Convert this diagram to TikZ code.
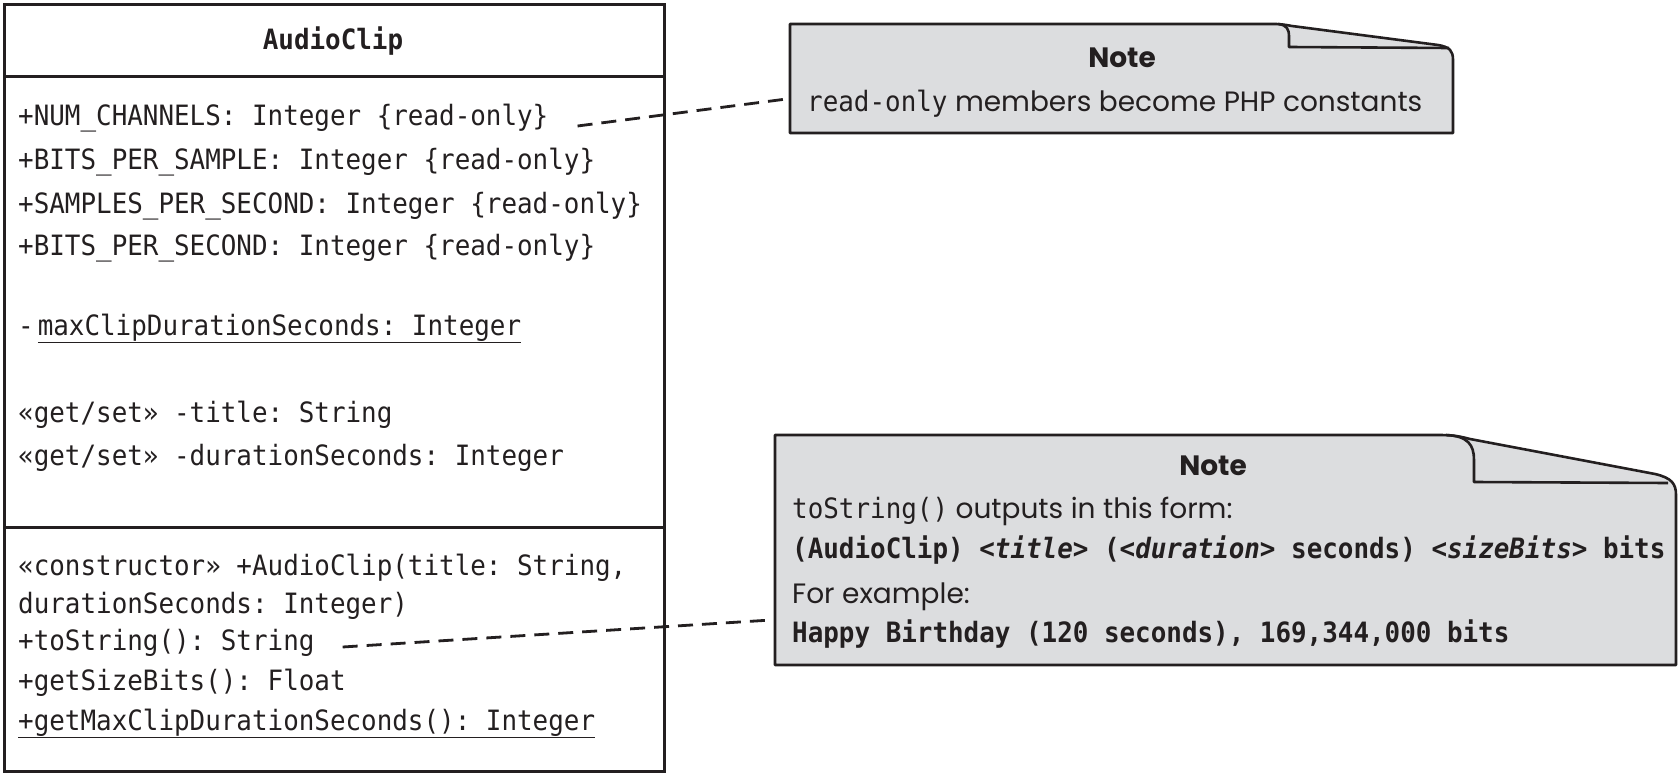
\documentclass[tikz,border=0pt]{standalone}
\usepackage{fontspec}
\setmonofont{DejaVu Sans Mono}[UprightFont=*, BoldFont=* Bold, ItalicFont=* Oblique, BoldItalicFont=* Bold Oblique, FakeStretch=0.925]
\newfontfamily\notefont{Poppins}
\usetikzlibrary{positioning, calc}
\definecolor{notegray}{RGB}{220,221,223}
\definecolor{ink}{RGB}{35,31,32}
\newcommand{\codefont}{\fontsize{28}{40}\selectfont\ttfamily}

\begin{document}
\begin{tikzpicture}[
    x=1pt, y=-1pt,
    member/.style={anchor=base west, inner sep=0pt, font=\codefont, text=ink},
    classhead/.style={anchor=base, inner sep=0pt, font=\codefont\bfseries, text=ink},
    classbox/.style={draw=ink, line width=2.6pt, minimum width=660pt, minimum height=767pt, inner sep=0pt},
    sepline/.style={draw=ink, line width=3pt},
    notebox/.style={inner sep=0pt},
    noteline/.style={draw=ink, fill=notegray, line width=2.6pt, line join=round},
    notehead/.style={anchor=base, inner sep=0pt, font=\fontsize{28}{40}\selectfont\notefont\bfseries, text=ink},
    notetext/.style={anchor=base west, inner sep=0pt, font=\fontsize{28}{40}\selectfont\notefont, text=ink},
    dashline/.style={draw=ink, line width=2.8pt, dash pattern=on 15pt off 9pt}
]
\useasboundingbox (0,0) rectangle (1679,773);

% Class box
\node[classbox, anchor=north west] (cls) at (3,3) {};
\draw[sepline] ($(cls.north west)+(0,74)$) -- ($(cls.north east)+(0,74)$);
\draw[sepline] ($(cls.north west)+(0,524)$) -- ($(cls.north east)+(0,524)$);
\node[classhead] (title) at (333,50) {AudioClip};

% Attributes
\node[member] (a1) at (18,126) {+NUM\_CHANNELS: Integer \{read-only\}};
\node[member] (a2) at (18,169) {+BITS\_PER\_SAMPLE: Integer \{read-only\}};
\node[member] (a3) at (18,213) {+SAMPLES\_PER\_SECOND: Integer \{read-only\}};
\node[member] (a4) at (18,255) {+BITS\_PER\_SECOND: Integer \{read-only\}};
\node[member] (a5) at (18,335) {-\kern4pt\underline{maxClipDurationSeconds: Integer}};
\node[member] (a6) at (18,422) {«get/set» -title: String};
\node[member] (a7) at (18,465) {«get/set» -durationSeconds: Integer};

% Operations
\node[member] (o1) at (18,575) {«constructor» +AudioClip(title: String,};
\node[member] (o2) at (18,613) {durationSeconds: Integer)};
\node[member] (o3) at (18,650) {+toString(): String};
\node[member] (o4) at (18,690) {+getSizeBits(): Float};
\node[member] (o5) at (18,730) {\underline{+getMaxClipDurationSeconds(): Integer}};

% Note on constants
\node[notebox, minimum width=663pt, minimum height=109pt, anchor=north west] (note1) at (790,24) {};
\draw[noteline] (790,24) -- (1274,24) .. controls (1282,24) and (1286,25) .. (1292,26)
    -- (1438,45) .. controls (1450,47) and (1453,51) .. (1453,60) -- (1453,133) -- (790,133) -- cycle;
\draw[noteline, fill=none] (1278,24) .. controls (1287,25) and (1289,29) .. (1289,37) -- (1289,47) -- (1449,48);
\node[notehead] (n1head) at (1122,68) {Note};
\node[notetext] (n1text) at (807,112) {{\codefont read-only} members become PHP constants};

% Note on toString
\node[notebox, minimum width=901pt, minimum height=230pt, anchor=north west] (note2) at (775,435) {};
\draw[noteline] (775,435) -- (1440,435) .. controls (1455,435) and (1462,437) .. (1470,439)
    -- (1655,474) .. controls (1672,478) and (1676,484) .. (1676,495) -- (1676,665) -- (775,665) -- cycle;
\draw[noteline, fill=none] (1446,435) .. controls (1468,436) and (1474,445) .. (1474,460) -- (1474,482) -- (1668,483);
\node[notehead] (n2head) at (1213,475) {Note};
\node[notetext] (n2l1) at (792,518) {{\codefont toString()} outputs in this form:};
\node[member, font=\codefont\bfseries] (n2l2) at (792,558) {(AudioClip) \textit{<title>} (\textit{<duration>} seconds) \textit{<sizeBits>} bits};
\node[notetext] (n2l3) at (792,603) {For example:};
\node[member, font=\codefont\bfseries] (n2l4) at (792,642) {Happy Birthday (120 seconds), 169,344,000 bits};

% Connectors
\draw[dashline] ($(a1.base east)+(29,0)$) -- ($(note1.west)+(-5,20.5)$);
\draw[dashline] ($(o3.base east)+(28,-3)$) -- ($(note2.west)+(-7,70)$);

\end{tikzpicture}
\end{document}
